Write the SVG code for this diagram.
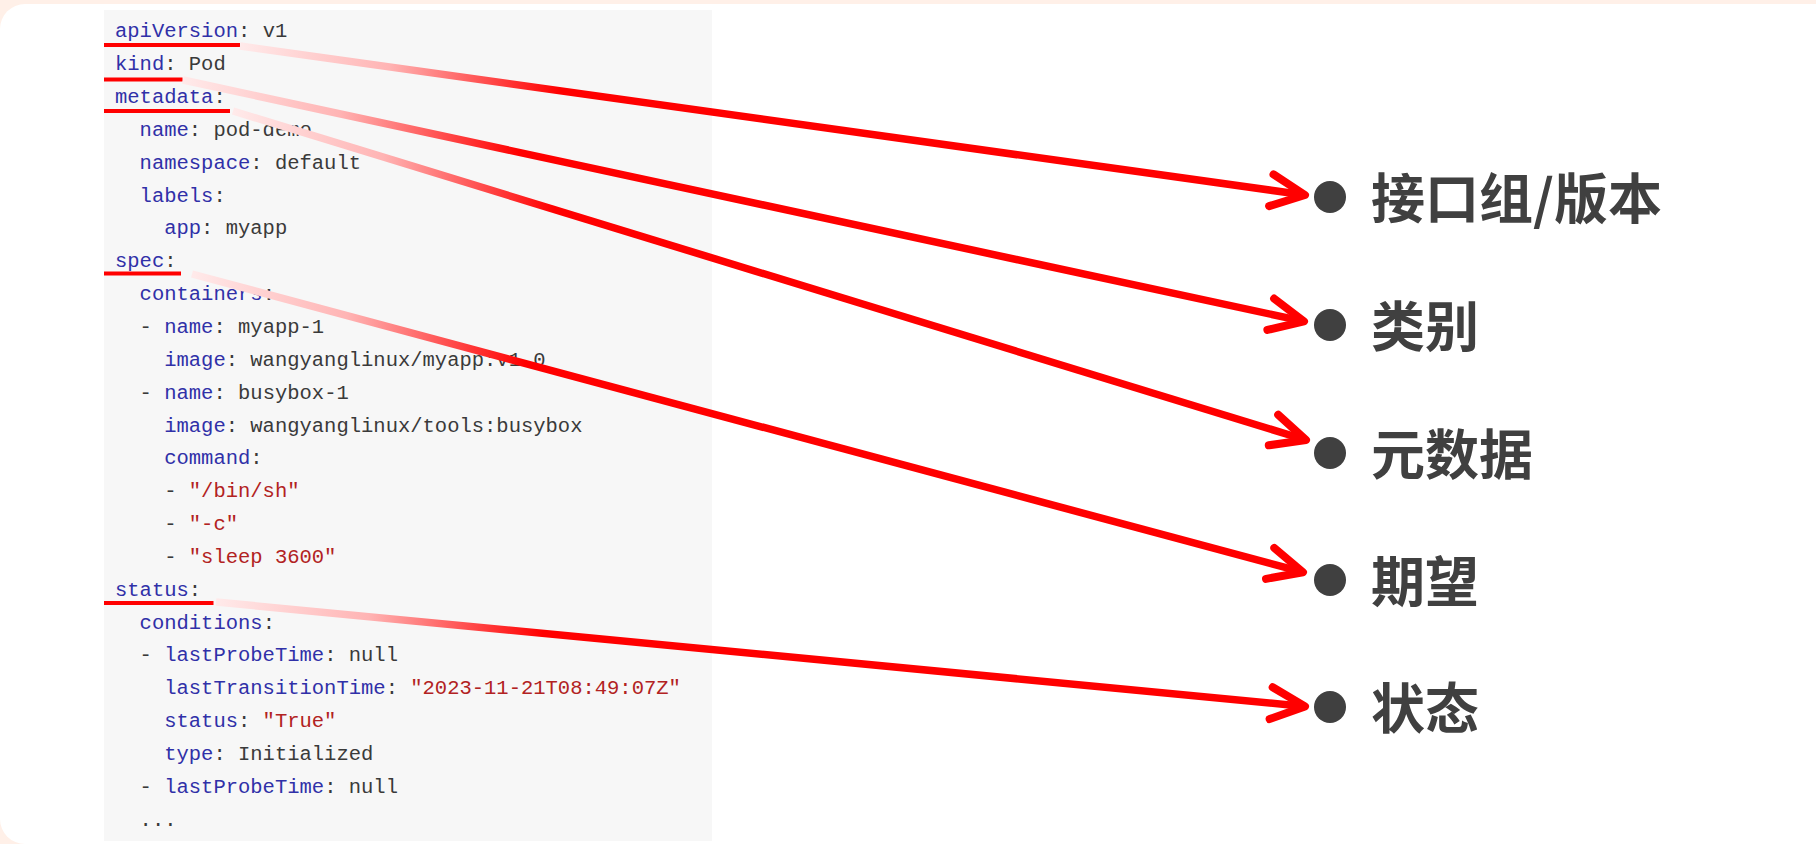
<svg xmlns="http://www.w3.org/2000/svg" width="1816" height="844" viewBox="0 0 1816 844">
  <style>
    .code { font-family: "Liberation Mono", "DejaVu Sans Mono", monospace; font-size: 20.5px; fill: #3a3a3a; }
    .k { fill: #3030a8; }
    .s { fill: #b22222; }
    .ul { fill: #ff0000; }
    .dot { fill: #404040; }
    .lbl { font-family: "Noto Sans CJK SC", "Noto Sans", sans-serif; font-size: 54px; font-weight: 700; fill: #404040; }
    .conn { fill: none; stroke: url(#fade); stroke-width: 7.5; stroke-linecap: butt; marker-end: url(#ah); }
  </style>
  <defs>
    <linearGradient id="fade" x1="0" y1="0" x2="1" y2="0">
      <stop offset="0" stop-color="#ffeaea"/>
      <stop offset="0.14" stop-color="#ffb4b4"/>
      <stop offset="0.3" stop-color="#ff0000"/>
      <stop offset="1" stop-color="#ff0000"/>
    </linearGradient>
    <marker id="ah" markerUnits="userSpaceOnUse" markerWidth="50" markerHeight="50" refX="0" refY="0" orient="auto" overflow="visible">
      <path d="M-34,-16 L0,0 L-34,16" fill="none" stroke="#ff0000" stroke-width="8" stroke-linecap="round" stroke-linejoin="round"/>
    </marker>
  </defs>

  <rect x="0" y="0" width="1816" height="844" fill="#fff0e8"/>
  <rect x="0" y="4" width="1900" height="840" rx="25" ry="25" fill="#ffffff"/>

  <g id="yaml-code">
    <rect x="104" y="10" width="608" height="831" fill="#f7f7f7"/>
    <text class="code" x="115" y="37.3"><tspan class="k">apiVersion</tspan>: v1</text>
    <text class="code" x="115" y="70.15"><tspan class="k">kind</tspan>: Pod</text>
    <text class="code" x="115" y="103"><tspan class="k">metadata</tspan>:</text>
    <text class="code" x="139.6" y="135.85"><tspan class="k">name</tspan>: pod-demo</text>
    <text class="code" x="139.6" y="168.7"><tspan class="k">namespace</tspan>: default</text>
    <text class="code" x="139.6" y="201.55"><tspan class="k">labels</tspan>:</text>
    <text class="code" x="164.2" y="234.4"><tspan class="k">app</tspan>: myapp</text>
    <text class="code" x="115" y="267.25"><tspan class="k">spec</tspan>:</text>
    <text class="code" x="139.6" y="300.1"><tspan class="k">containers</tspan>:</text>
    <text class="code" x="139.6" y="332.95">- <tspan class="k">name</tspan>: myapp-1</text>
    <text class="code" x="164.2" y="365.8"><tspan class="k">image</tspan>: wangyanglinux/myapp:v1.0</text>
    <text class="code" x="139.6" y="398.65">- <tspan class="k">name</tspan>: busybox-1</text>
    <text class="code" x="164.2" y="431.5"><tspan class="k">image</tspan>: wangyanglinux/tools:busybox</text>
    <text class="code" x="164.2" y="464.35"><tspan class="k">command</tspan>:</text>
    <text class="code" x="164.2" y="497.2">- <tspan class="s">"/bin/sh"</tspan></text>
    <text class="code" x="164.2" y="530.05">- <tspan class="s">"-c"</tspan></text>
    <text class="code" x="164.2" y="562.9">- <tspan class="s">"sleep 3600"</tspan></text>
    <text class="code" x="115" y="595.75"><tspan class="k">status</tspan>:</text>
    <text class="code" x="139.6" y="628.6"><tspan class="k">conditions</tspan>:</text>
    <text class="code" x="139.6" y="661.45">- <tspan class="k">lastProbeTime</tspan>: null</text>
    <text class="code" x="164.2" y="694.3"><tspan class="k">lastTransitionTime</tspan>: <tspan class="s">"2023-11-21T08:49:07Z"</tspan></text>
    <text class="code" x="164.2" y="727.15"><tspan class="k">status</tspan>: <tspan class="s">"True"</tspan></text>
    <text class="code" x="164.2" y="760"><tspan class="k">type</tspan>: Initialized</text>
    <text class="code" x="139.6" y="792.85">- <tspan class="k">lastProbeTime</tspan>: null</text>
    <text class="code" x="139.6" y="825.7">...</text>
    <rect class="ul" x="104" y="43" width="136" height="4"/>
    <rect class="ul" x="104" y="77.5" width="78.5" height="4"/>
    <rect class="ul" x="104" y="109" width="126" height="4"/>
    <rect class="ul" x="104" y="271.5" width="77" height="4"/>
    <rect class="ul" x="104" y="601" width="109.5" height="4"/>
  </g>

  <g id="connectors">
    <path class="conn" d="M240,46 L1305,195"/>
    <path class="conn" d="M183,80 L1304,321.4"/>
    <path class="conn" d="M233,111 L1306,440"/>
    <path class="conn" d="M192,274 L1303,572.2"/>
    <path class="conn" d="M216,602 L1305,706.4"/>
  </g>

  <g id="label-apiversion">
    <circle class="dot" cx="1330" cy="197" r="16"/>
    <text class="lbl" x="1371" y="219">接口组/版本</text>
  </g>
  <g id="label-kind">
    <circle class="dot" cx="1330" cy="325" r="16"/>
    <text class="lbl" x="1371" y="347">类别</text>
  </g>
  <g id="label-metadata">
    <circle class="dot" cx="1330" cy="453" r="16"/>
    <text class="lbl" x="1371" y="475">元数据</text>
  </g>
  <g id="label-spec">
    <circle class="dot" cx="1330" cy="580" r="16"/>
    <text class="lbl" x="1371" y="602">期望</text>
  </g>
  <g id="label-status">
    <circle class="dot" cx="1330" cy="707" r="16"/>
    <text class="lbl" x="1371" y="729">状态</text>
  </g>
</svg>
